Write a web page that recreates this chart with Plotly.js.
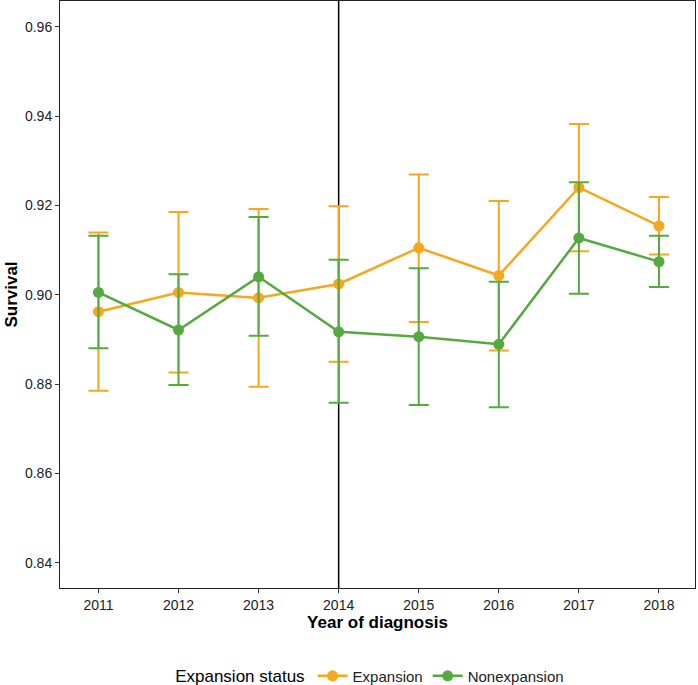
<!DOCTYPE html>
<html>
<head>
<meta charset="utf-8">
<script src="https://cdn.plot.ly/plotly-3.0.1.min.js"></script>
<style>
html,body{margin:0;padding:0;background:#fff;}
#chart{width:698px;height:685px;}
</style>
</head>
<body>
<div id="chart"></div>
<script>
var years = [2011, 2012, 2013, 2014, 2015, 2016, 2017, 2018];
var yearLabels = ["2011", "2012", "2013", "2014", "2015", "2016", "2017", "2018"];

var expansionSurv  = [0.8962, 0.9005, 0.8993, 0.9024, 0.9105, 0.9043, 0.9240, 0.9154];
var expansionUpper = [0.9139, 0.9185, 0.9192, 0.9198, 0.9269, 0.9210, 0.9382, 0.9219];
var expansionLower = [0.8785, 0.8826, 0.8794, 0.8850, 0.8939, 0.8875, 0.9097, 0.9090];

var nonexpSurv  = [0.9005, 0.8921, 0.9040, 0.8917, 0.8906, 0.8889, 0.9127, 0.9074];
var nonexpUpper = [0.9132, 0.9046, 0.9174, 0.9078, 0.9059, 0.9029, 0.9252, 0.9132];
var nonexpLower = [0.8880, 0.8798, 0.8908, 0.8758, 0.8753, 0.8748, 0.9002, 0.9017];

var yTicks = [0.84, 0.86, 0.88, 0.90, 0.92, 0.94, 0.96];
var yTickLabels = ["0.84", "0.86", "0.88", "0.90", "0.92", "0.94", "0.96"];
var policyYear = 2014;

var orange = "#F6A71E";
var green = "#55AA3F";
var font = "Liberation Sans, Arial, Helvetica, sans-serif";

function diff(a, b) { return a.map(function (v, i) { return v - b[i]; }); }

function makeTrace(name, y, up, lo, color) {
  return {
    type: "scatter",
    mode: "lines+markers",
    name: name,
    x: years,
    y: y,
    line: {color: color, width: 2.5},
    marker: {color: color, size: 11},
    error_y: {
      type: "data",
      symmetric: false,
      array: diff(up, y),
      arrayminus: diff(y, lo),
      color: color,
      thickness: 2,
      width: 10
    }
  };
}

var data = [
  makeTrace("Expansion", expansionSurv, expansionUpper, expansionLower, orange),
  makeTrace("Nonexpansion", nonexpSurv, nonexpUpper, nonexpLower, green)
];

var layout = {
  width: 698,
  height: 685,
  margin: {l: 60, r: 3, t: 1, b: 97, autoexpand: false},
  paper_bgcolor: "#ffffff",
  plot_bgcolor: "#ffffff",
  font: {family: font, color: "#000000"},
  showlegend: true,
  xaxis: {
    range: [2010.52, 2018.45],
    tickmode: "array",
    tickvals: years,
    ticktext: yearLabels,
    showgrid: false,
    zeroline: false,
    showline: true,
    mirror: true,
    linecolor: "#222222",
    linewidth: 1,
    ticks: "outside",
    ticklen: 4,
    tickwidth: 1,
    tickcolor: "#333333",
    tickfont: {family: font, size: 14, color: "#222222"},
    title: {text: "<b>Year of diagnosis</b>", font: {family: font, size: 17, color: "#000"}, standoff: 3}
  },
  yaxis: {
    range: [0.83434, 0.96575],
    tickmode: "array",
    tickvals: yTicks,
    ticktext: yTickLabels,
    showgrid: false,
    zeroline: false,
    showline: true,
    mirror: true,
    linecolor: "#222222",
    linewidth: 1,
    ticks: "outside",
    ticklen: 4,
    tickwidth: 1,
    tickcolor: "#333333",
    tickfont: {family: font, size: 14, color: "#222222"},
    title: {text: "<b>Survival</b>", font: {family: font, size: 17, color: "#000"}, standoff: 3}
  },
  shapes: [{
    type: "line",
    xref: "x", yref: "paper",
    x0: policyYear, x1: policyYear, y0: 0, y1: 1,
    line: {color: "#000000", width: 1.5},
    layer: "below"
  }],
  legend: {
    orientation: "h",
    x: 0.49, xanchor: "center",
    y: -0.122, yanchor: "top",
    font: {family: font, size: 15, color: "#222222"},
    title: {text: "Expansion status", side: "left", font: {family: font, size: 17, color: "#000"}},
    itemwidth: 30,
    bgcolor: "rgba(0,0,0,0)"
  }
};

Plotly.newPlot("chart", data, layout, {displayModeBar: false, staticPlot: true});
</script>
</body>
</html>
